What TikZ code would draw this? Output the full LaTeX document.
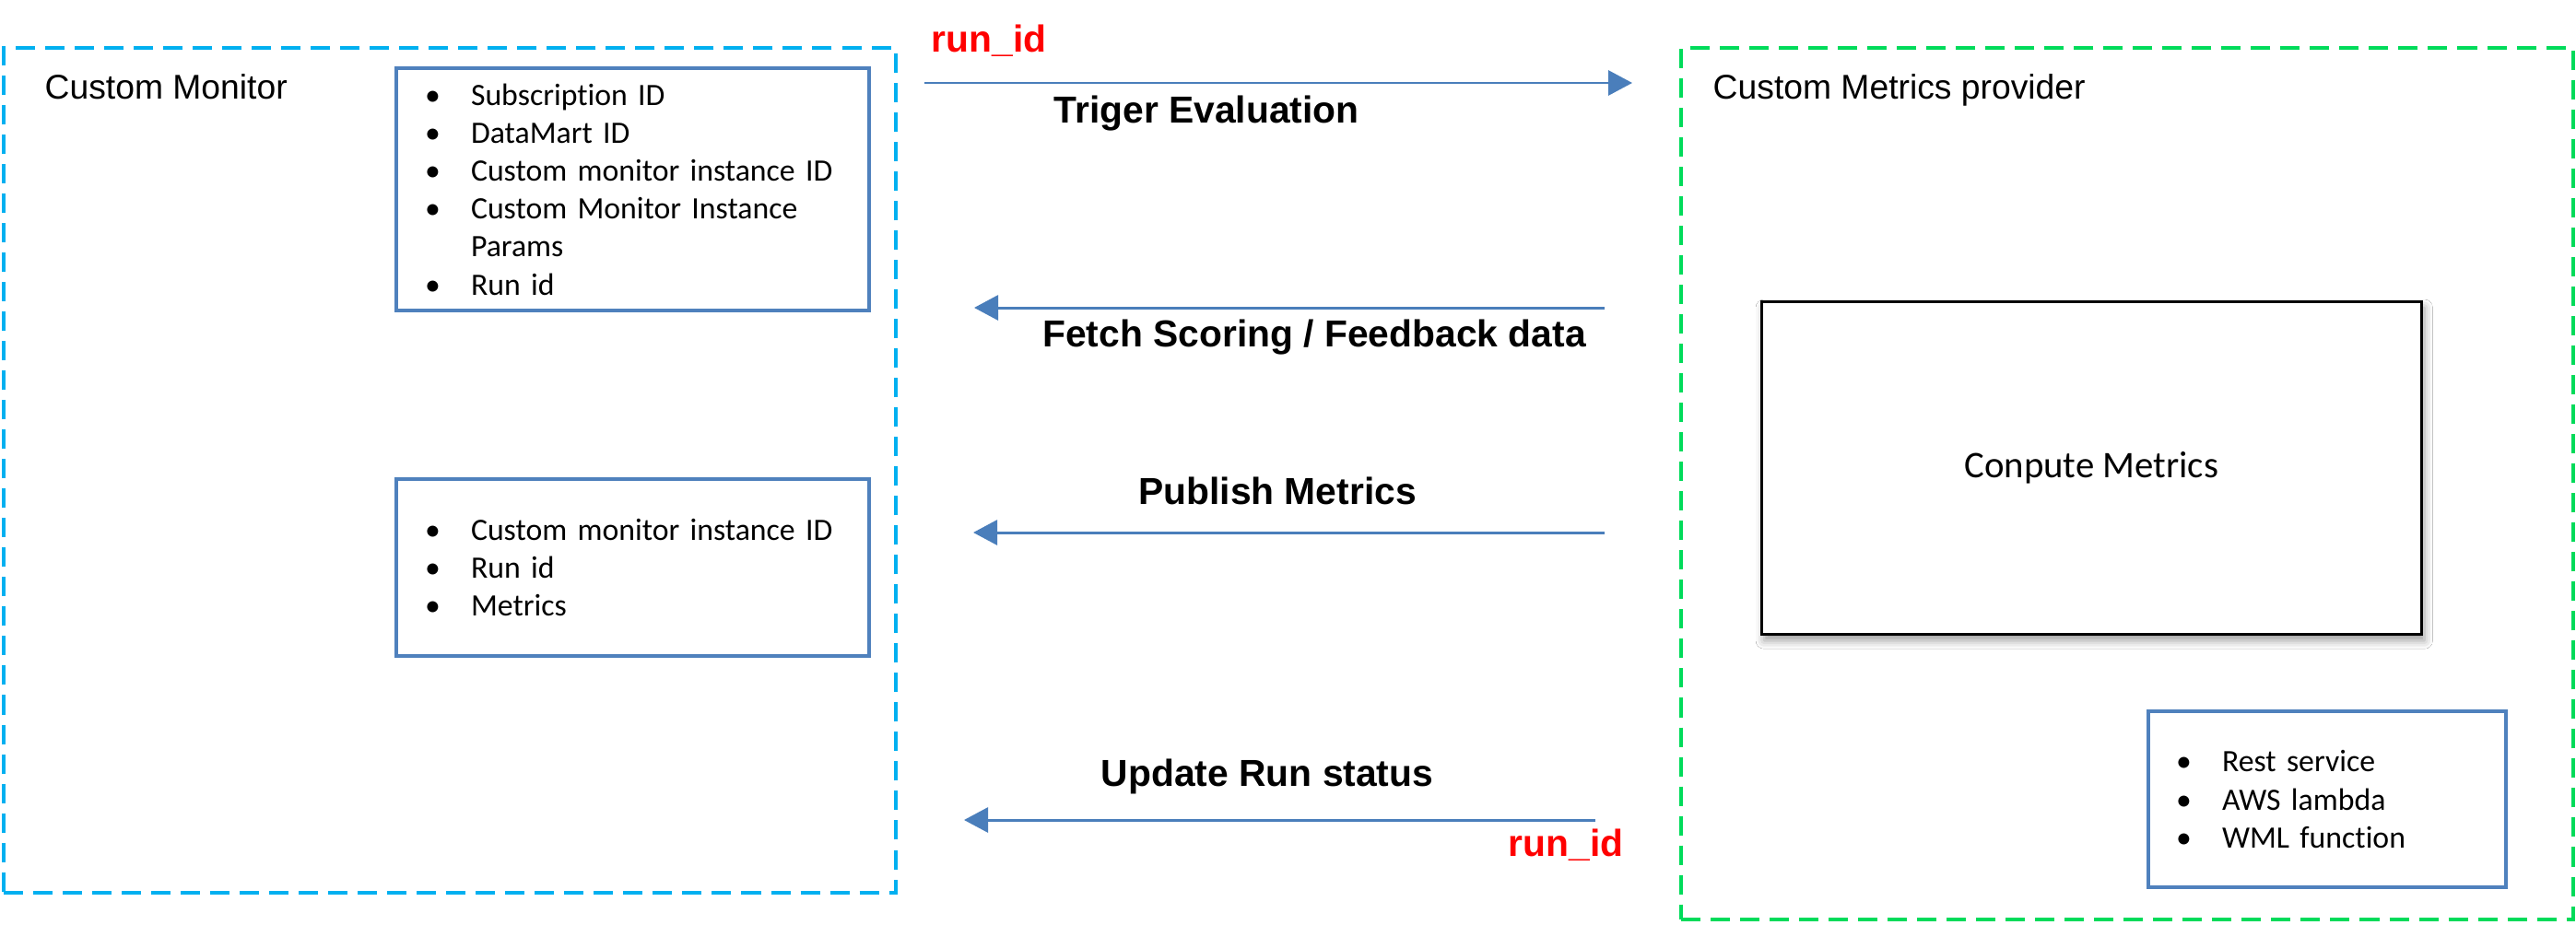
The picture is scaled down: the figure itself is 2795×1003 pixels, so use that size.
\documentclass[tikz,border=0pt]{standalone}
\usepackage{fontspec}
\setmainfont{Liberation Sans}
\newfontfamily\calfont[Ligatures=NoCommon]{Carlito}
\usetikzlibrary{arrows.meta,shadows.blur}

\definecolor{monblue}{RGB}{0,176,240}
\definecolor{provgreen}{RGB}{0,219,90}
\definecolor{listblue}{RGB}{79,129,189}
\definecolor{flowblue}{RGB}{74,126,187}

% one bullet line of a list box
\def\itm#1{\makebox[0.5cm][l]{\textbullet}#1}

\tikzset{
	groupbox/.style={draw, line width=1.15pt, dash pattern=on 0.21cm off 0.11cm, outer sep=0, inner sep=0, anchor=north west},
	listbox/.style={draw=listblue, line width=1.1pt, outer sep=0, inner ysep=0, align=left, anchor=north west, font=\calfont\fontsize{9.6}{11.7}\selectfont},
	flow/.style={draw=flowblue, line width=0.85pt, -{Triangle[length=0.26cm,width=0.27cm]}},
	flowlabel/.style={font=\bfseries\fontsize{11.6}{14}\selectfont, inner sep=0, anchor=base},
	runid/.style={flowlabel, text=red, anchor=base west},
	title/.style={font=\fontsize{10.6}{13}\selectfont, inner sep=0, anchor=base west},
}

\begin{document}
\begin{tikzpicture}[x=0.01cm, y=-0.01cm]
	%%%%% START %%%%%
	\fill[white] (0,0) rectangle (2795,1003);
	\useasboundingbox (0,0) rectangle (2795,1003);
	
	% the two sides
	\node[groupbox, draw=monblue, minimum width=9.67cm, minimum height=9.16cm] (monitor) at (4,52) {};
	\node[title] (monitortitle) at (48,107) {Custom Monitor};
	
	\node[groupbox, draw=provgreen, minimum width=9.67cm, minimum height=9.45cm] (provider) at (1824,52) {};
	\node[title] (providertitle) at (1858,107.5) {Custom Metrics provider};
	
	% monitor side lists
	\node[listbox, inner xsep=0.31cm, text width=4.51cm, minimum height=2.63cm] (evalparams) at (430,74) {
		\itm{Subscription ID}\\
		\itm{DataMart ID}\\
		\itm{Custom monitor instance ID}\\
		\itm{Custom Monitor Instance}\\
		\hspace*{0.5cm}Params\\
		\itm{Run id}};
	
	\node[listbox, inner xsep=0.31cm, text width=4.51cm, minimum height=1.92cm] (metricsparams) at (430,520) {
		\itm{Custom monitor instance ID}\\
		\itm{Run id}\\
		\itm{Metrics}};
	
	% provider side
	\node[draw, line width=0.85pt, fill=white, outer sep=0, anchor=north west, minimum width=7.16cm, minimum height=3.61cm,
		blur shadow={shadow xshift=0.03cm, shadow yshift=-0.07cm, shadow blur radius=0.09cm, shadow opacity=40},
		font=\calfont\fontsize{11.6}{14}\selectfont] (compute) at (1911,327) {Conpute Metrics};
	
	\node[listbox, inner xsep=0.30cm, text width=3.28cm, minimum height=1.91cm] (hosting) at (2331,772) {
		\itm{Rest service}\\
		\itm{AWS lambda}\\
		\itm{WML function}};
	
	% calls between the two sides
	\coordinate (trigstart) at (1003,90);
	\coordinate (trigend) at (1771,90);
	\draw[flow] (trigstart) -- (trigend);
	\node[runid] (runidtop) at (1010,56) {run\_id};
	\node[flowlabel] (triglabel) at (1309,133) {Triger Evaluation};
	
	\coordinate (fetchstart) at (1741,334);
	\coordinate (fetchend) at (1057,334);
	\draw[flow] (fetchstart) -- (fetchend);
	\node[flowlabel] (fetchlabel) at (1426,376) {Fetch Scoring / Feedback data};
	
	\coordinate (pubstart) at (1741,578);
	\coordinate (pubend) at (1056,578);
	\draw[flow] (pubstart) -- (pubend);
	\node[flowlabel] (publabel) at (1386,547) {Publish Metrics};
	
	\coordinate (statstart) at (1731,890);
	\coordinate (statend) at (1046,890);
	\draw[flow] (statstart) -- (statend);
	\node[flowlabel] (statlabel) at (1375,853) {Update Run status};
	\node[runid] (runidbottom) at (1636,929) {run\_id};
	
	%%%%% END %%%%%
\end{tikzpicture}
\end{document}
